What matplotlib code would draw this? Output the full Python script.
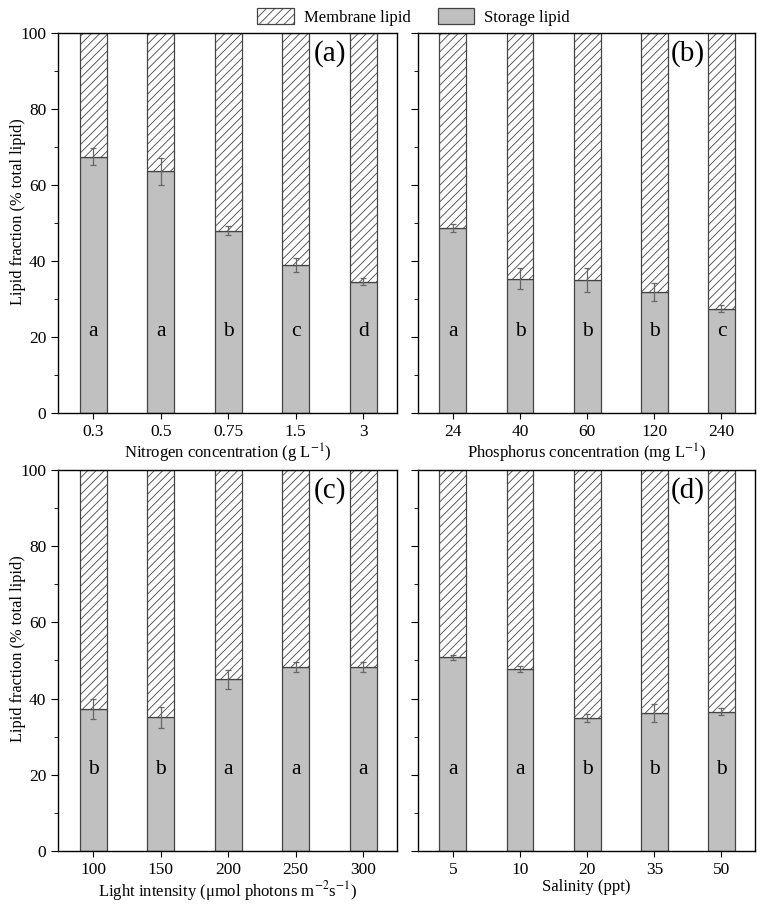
import numpy as np
import matplotlib.pyplot as plt
from matplotlib.patches import Patch
from matplotlib.ticker import MultipleLocator

plt.rcParams['font.family'] = ['Liberation Serif', 'DejaVu Serif']
plt.rcParams['mathtext.fontset'] = 'stix'
plt.rcParams['hatch.linewidth'] = 0.6
plt.rcParams['hatch.color'] = '#555555'

# panel data: storage lipid (%), error, significance letters
n_labels = ['0.3', '0.5', '0.75', '1.5', '3']
n_storage = [67.5, 63.6, 48.0, 38.9, 34.6]
n_err = [2.3, 3.5, 1.1, 1.8, 0.9]
n_sig = ['a', 'a', 'b', 'c', 'd']

p_labels = ['24', '40', '60', '120', '240']
p_storage = [48.7, 35.4, 35.0, 31.8, 27.5]
p_err = [1.1, 2.8, 3.1, 2.4, 1.0]
p_sig = ['a', 'b', 'b', 'b', 'c']

l_labels = ['100', '150', '200', '250', '300']
l_storage = [37.2, 35.1, 45.1, 48.4, 48.4]
l_err = [2.6, 2.8, 2.5, 1.3, 1.3]
l_sig = ['b', 'b', 'a', 'a', 'a']

s_labels = ['5', '10', '20', '35', '50']
s_storage = [50.8, 47.8, 34.9, 36.2, 36.5]
s_err = [0.6, 0.8, 1.1, 2.3, 0.9]
s_sig = ['a', 'a', 'b', 'b', 'b']

panels = [
    ('(a)', n_labels, n_storage, n_err, n_sig, 'Nitrogen concentration (g L$^{-1}$)'),
    ('(b)', p_labels, p_storage, p_err, p_sig, 'Phosphorus concentration (mg L$^{-1}$)'),
    ('(c)', l_labels, l_storage, l_err, l_sig,
     'Light intensity (\u03bcmol photons m$^{-2}$s$^{-1}$)'),
    ('(d)', s_labels, s_storage, s_err, s_sig, 'Salinity (ppt)'),
]

fig = plt.figure(figsize=(7.66, 9.05), dpi=100)
rects = [
    [0.0757, 0.5436, 0.4426, 0.4199],
    [0.5457, 0.5436, 0.4400, 0.4199],
    [0.0757, 0.0597, 0.4426, 0.4210],
    [0.5457, 0.0597, 0.4400, 0.4210],
]

storage_color = '#c0c0c0'
edge = '#444444'

for i, (tag, labels, storage, err, sig, xlabel) in enumerate(panels):
    ax = fig.add_axes(rects[i])
    x = np.arange(len(labels))
    storage = np.array(storage)
    membrane = 100 - storage
    ax.bar(x, storage, width=0.4, color=storage_color, edgecolor=edge, linewidth=0.9)
    ax.bar(x, membrane, bottom=storage, width=0.4, color='white', edgecolor=edge,
           linewidth=0.9, hatch='////')
    ax.errorbar(x, storage, yerr=err, fmt='none', ecolor='#666666',
                elinewidth=0.9, capsize=2.5, capthick=0.9)
    for xi, s in zip(x, sig):
        ax.text(xi, 21.5, s, ha='center', va='center', fontsize=15.5)
    ax.text(0.85, 0.947, tag, transform=ax.transAxes, ha='right', va='center',
            fontsize=21)

    ax.set_xlim(-0.52, 4.5)
    ax.set_ylim(0, 100)
    ax.set_xticks(x)
    ax.set_xticklabels(labels, fontsize=12.5)
    ax.yaxis.set_major_locator(MultipleLocator(20))
    ax.yaxis.set_minor_locator(MultipleLocator(10))
    ax.tick_params(axis='y', which='major', direction='out', length=5, labelsize=12.5)
    ax.tick_params(axis='y', which='minor', direction='out', length=3)
    ax.tick_params(axis='x', direction='out', length=4, pad=4)
    ax.set_xlabel(xlabel, fontsize=12, labelpad=1)
    if i % 2 == 0:
        ax.set_ylabel('Lipid fraction (% total lipid)', fontsize=11.8)
        ax.yaxis.set_label_coords(-0.094, 0.53)
    else:
        ax.set_yticklabels([])
    for sp in ax.spines.values():
        sp.set_linewidth(1.0)

handles = [
    Patch(facecolor='white', edgecolor=edge, hatch='////', linewidth=0.9, label='Membrane lipid'),
    Patch(facecolor=storage_color, edgecolor=edge, linewidth=0.9, label='Storage lipid'),
]
fig.legend(handles=handles, loc='center', bbox_to_anchor=(0.54, 0.981), ncol=2,
           frameon=False, fontsize=12, handlelength=2.2, handleheight=1.1,
           columnspacing=1.6, handletextpad=0.6)

plt.savefig('out.png', dpi=100)
